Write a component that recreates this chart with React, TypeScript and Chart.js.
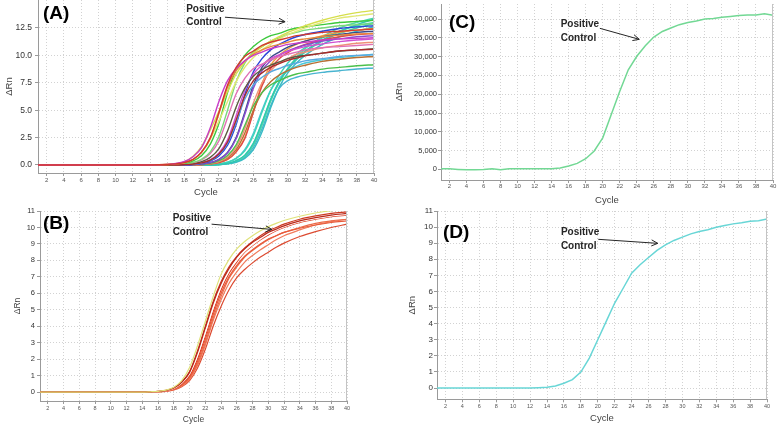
import React, { useEffect, useRef } from "react";
import { Chart, registerables } from "chart.js";

Chart.register(...registerables);

const FONT = '"Liberation Sans", Arial, Helvetica, sans-serif';

// ---------- shared tick labels ----------
const X_TICKS = [2, 4, 6, 8, 10, 12, 14, 16, 18, 20, 22, 24, 26, 28, 30, 32, 34, 36, 38, 40];
const A_Y_TICKS = [0, 2.5, 5, 7.5, 10, 12.5];
const C_Y_TICKS = [0, 5000, 10000, 15000, 20000, 25000, 30000, 35000, 40000];
const BD_Y_TICKS = [0, 1, 2, 3, 4, 5, 6, 7, 8, 9, 10, 11];

// ---------- Panel A (many samples) ----------
const A_CYCLES = [1, 12, 14, 16, 17, 18, 19, 20, 21, 22, 23, 24, 25, 26, 27, 28, 29, 30, 31, 32, 34, 36, 38, 40];
const A_RED = [0, 0, 0, 0.04, 0.1, 0.22, 0.52, 1.2, 2.5, 4.8, 7.3, 8.9, 9.9, 10.4, 10.9, 11.2, 11.4, 11.6, 11.8, 11.9, 12.1, 12.2, 12.3, 12.4];
const A_MAGENTA = [0, 0, 0, 0.06, 0.14, 0.32, 0.75, 1.6, 3.4, 5.8, 7.7, 8.8, 9.5, 10.0, 10.3, 10.6, 10.8, 11.0, 11.1, 11.2, 11.4, 11.5, 11.55, 11.6];
const A_YELLOW = [0, 0, 0, 0.05, 0.12, 0.3, 0.8, 1.7, 3.2, 4.9, 6.7, 8.3, 9.4, 10.2, 10.8, 11.3, 11.7, 12.1, 12.4, 12.7, 13.2, 13.6, 13.9, 14.1];
const A_YELLOW2 = [0, 0, 0, 0.03, 0.08, 0.2, 0.5, 1.2, 2.4, 4.0, 5.8, 7.6, 8.9, 9.8, 10.5, 11.0, 11.5, 11.9, 12.2, 12.5, 13.0, 13.4, 13.6, 13.8];
const A_ORANGE = [0, 0, 0, 0.04, 0.1, 0.21, 0.5, 1.15, 2.4, 4.7, 7.1, 8.6, 9.5, 10.1, 10.5, 10.8, 11.0, 11.2, 11.4, 11.5, 11.7, 11.85, 11.95, 12.0];
const A_GREEN = [0, 0, 0, 0, 0.07, 0.16, 0.37, 0.86, 1.9, 3.8, 6.6, 8.7, 10.0, 10.8, 11.4, 11.8, 12.0, 12.3, 12.5, 12.6, 12.8, 13.0, 13.1, 13.2];
const A_LIGHTGREEN = [0, 0, 0, 0, 0.04, 0.1, 0.23, 0.54, 1.2, 2.6, 5.0, 7.6, 9.3, 10.3, 10.8, 11.3, 11.6, 11.9, 12.1, 12.3, 12.5, 12.7, 12.8, 12.9];
const A_PINK = [0, 0, 0, 0, 0.03, 0.09, 0.2, 0.46, 1.05, 2.2, 4.3, 6.5, 7.9, 8.8, 9.2, 9.6, 9.9, 10.1, 10.3, 10.5, 10.7, 10.8, 10.9, 11.0];
const A_OLIVE = [0, 0, 0, 0, 0, 0.05, 0.13, 0.3, 0.7, 1.5, 3.1, 5.3, 7.0, 8.1, 8.7, 9.1, 9.4, 9.7, 9.9, 10.0, 10.2, 10.4, 10.5, 10.6];
const A_SKY = [0, 0, 0, 0, 0, 0.03, 0.08, 0.18, 0.42, 0.96, 2.0, 3.9, 6.0, 7.3, 8.0, 8.5, 8.8, 9.1, 9.3, 9.5, 9.7, 9.9, 10.0, 10.05];
const A_DARKRED = [0, 0, 0, 0, 0, 0.03, 0.08, 0.19, 0.44, 1.0, 2.1, 4.1, 6.3, 7.7, 8.4, 8.9, 9.25, 9.55, 9.75, 9.95, 10.2, 10.4, 10.5, 10.55];
const A_MAGENTA2 = [0, 0, 0, 0, 0, 0.03, 0.09, 0.2, 0.48, 1.1, 2.3, 4.5, 6.8, 8.3, 9.1, 9.7, 10.05, 10.35, 10.6, 10.8, 11.05, 11.25, 11.4, 11.5];
const A_BLUE = [0, 0, 0, 0, 0, 0, 0.06, 0.15, 0.36, 0.83, 1.8, 3.7, 6.4, 8.5, 9.7, 10.5, 11.0, 11.4, 11.7, 11.9, 12.2, 12.45, 12.6, 12.7];
const A_PURPLE = [0, 0, 0, 0, 0, 0, 0.04, 0.1, 0.21, 0.5, 1.1, 2.4, 4.6, 7.0, 8.6, 9.5, 10.0, 10.4, 10.7, 10.95, 11.3, 11.5, 11.7, 11.8];
const A_NAVY = [0, 0, 0, 0, 0, 0, 0.04, 0.1, 0.22, 0.52, 1.15, 2.5, 4.8, 7.3, 8.9, 9.8, 10.3, 10.75, 11.05, 11.3, 11.7, 11.9, 12.1, 12.2];
const A_GREEN2 = [0, 0, 0, 0, 0, 0, 0.03, 0.08, 0.16, 0.39, 0.87, 1.84, 3.6, 5.4, 6.6, 7.3, 7.7, 8.05, 8.3, 8.45, 8.75, 8.9, 9.05, 9.15];
const A_SALMON = [0, 0, 0, 0, 0, 0, 0, 0.06, 0.14, 0.32, 0.73, 1.6, 3.3, 5.65, 7.5, 8.6, 9.3, 9.7, 10.1, 10.3, 10.7, 10.9, 11.1, 11.2];
const A_BROWN = [0, 0, 0, 0, 0, 0, 0, 0.05, 0.12, 0.28, 0.65, 1.4, 2.9, 5.0, 6.6, 7.6, 8.2, 8.6, 8.9, 9.1, 9.45, 9.65, 9.8, 9.9];
const A_RED2 = [0, 0, 0, 0, 0, 0, 0, 0.04, 0.1, 0.22, 0.5, 1.2, 2.4, 4.8, 7.2, 8.8, 9.7, 10.25, 10.7, 11.0, 11.4, 11.7, 11.9, 12.0];
const A_ORANGE2 = [0, 0, 0, 0, 0, 0, 0, 0.04, 0.1, 0.23, 0.52, 1.2, 2.5, 4.9, 7.4, 9.1, 10.0, 10.6, 11.0, 11.3, 11.8, 12.1, 12.3, 12.45];
const A_TEAL1 = [0, 0, 0, 0, 0, 0, 0, 0, 0, 0.05, 0.15, 0.4, 0.9, 2.0, 3.9, 6.0, 7.6, 8.8, 9.7, 10.4, 11.4, 12.2, 12.8, 13.3];
const A_TEAL2 = [0, 0, 0, 0, 0, 0, 0, 0, 0.04, 0.1, 0.25, 0.6, 1.3, 2.7, 4.8, 6.8, 8.2, 9.3, 10.1, 10.7, 11.6, 12.2, 12.7, 13.0];
const A_TEAL3 = [0, 0, 0, 0, 0, 0, 0, 0, 0, 0.03, 0.1, 0.25, 0.6, 1.4, 3.0, 5.2, 7.1, 8.4, 9.3, 10.0, 11.0, 11.7, 12.2, 12.6];
const A_TEAL4 = [0, 0, 0, 0, 0, 0, 0, 0, 0, 0.04, 0.12, 0.32, 0.8, 1.8, 3.6, 5.8, 7.5, 8.8, 9.8, 10.6, 11.7, 12.5, 13.0, 13.4];
const A_TEAL5 = [0, 0, 0, 0, 0, 0, 0, 0, 0, 0.04, 0.13, 0.35, 0.85, 1.9, 3.8, 5.9, 7.6, 8.7, 9.6, 10.3, 11.3, 12.0, 12.5, 12.9];
const A_CYAN = [0, 0, 0, 0, 0, 0, 0, 0, 0, 0.04, 0.12, 0.3, 0.7, 1.6, 3.3, 5.4, 7.0, 7.7, 8.0, 8.2, 8.45, 8.6, 8.75, 8.85];
const A_CYAN2 = [0, 0, 0, 0, 0, 0, 0, 0, 0.04, 0.1, 0.25, 0.6, 1.4, 2.9, 5.0, 6.8, 7.9, 8.6, 9.0, 9.3, 9.6, 9.8, 9.95, 10.1];

const A_SERIES = [A_RED, A_MAGENTA, A_ORANGE, A_DARKRED, A_YELLOW, A_YELLOW2, A_GREEN, A_LIGHTGREEN, A_PINK, A_OLIVE, A_SKY, A_MAGENTA2, A_BLUE, A_PURPLE, A_NAVY, A_GREEN2, A_SALMON, A_BROWN, A_RED2, A_ORANGE2, A_TEAL1, A_TEAL2, A_TEAL3, A_TEAL4, A_TEAL5, A_CYAN, A_CYAN2];
const A_COLORS = ["#d23a30", "#c83cc8", "#e8883c", "#a82c2c", "#d6de4c", "#e2e874", "#3cc83c", "#7ad87a", "#e070b4", "#5a5a40", "#58a8e0", "#d050d0", "#2a44d8", "#8a4cd0", "#3a4a8a", "#4cc04c", "#f09078", "#b87034", "#e04848", "#f0a040", "#30c8b0", "#40d4b8", "#38bcc4", "#50d8a8", "#3ccaa8", "#48b4d0", "#4cc8d8"];

// ---------- Panel B ----------
const B_CYCLES = [1, 14, 15, 16, 17, 18, 19, 20, 21, 22, 23, 24, 25, 26, 27, 28, 29, 30, 31, 32, 34, 36, 38, 40];
const B_YELLOW = [0, 0, 0.02, 0.05, 0.12, 0.3, 0.7, 1.5, 2.8, 4.3, 5.8, 7.15, 8.05, 8.7, 9.15, 9.5, 9.8, 10.05, 10.25, 10.42, 10.68, 10.88, 11.02, 11.15];
const B_RED1 = [0, 0, 0.02, 0.04, 0.1, 0.25, 0.6, 1.2, 2.4, 3.9, 5.4, 6.6, 7.5, 8.2, 8.7, 9.1, 9.4, 9.7, 9.9, 10.1, 10.4, 10.6, 10.75, 10.85];
const B_RED2 = [0, 0, 0.01, 0.03, 0.08, 0.2, 0.5, 1.0, 2.0, 3.4, 4.9, 6.2, 7.2, 7.9, 8.5, 8.9, 9.25, 9.55, 9.8, 10.0, 10.3, 10.5, 10.65, 10.75];
const B_WHITE = [0, 0, 0.01, 0.03, 0.09, 0.22, 0.55, 1.1, 2.2, 3.6, 5.1, 6.4, 7.35, 8.0, 8.55, 8.95, 9.3, 9.6, 9.85, 10.05, 10.35, 10.55, 10.7, 10.8];
const B_RED3 = [0, 0, 0.01, 0.02, 0.06, 0.16, 0.4, 0.85, 1.7, 3.0, 4.5, 5.8, 6.9, 7.6, 8.2, 8.6, 8.95, 9.25, 9.5, 9.7, 10.0, 10.25, 10.4, 10.5];
const B_RED4 = [0, 0, 0.01, 0.02, 0.05, 0.13, 0.32, 0.7, 1.45, 2.6, 4.0, 5.2, 6.2, 6.95, 7.45, 7.85, 8.2, 8.5, 8.8, 9.05, 9.45, 9.75, 10.0, 10.2];
const B_RED5 = [0, 0, 0.01, 0.02, 0.06, 0.15, 0.36, 0.78, 1.6, 2.85, 4.35, 5.6, 6.6, 7.3, 7.9, 8.3, 8.65, 8.95, 9.25, 9.5, 9.85, 10.15, 10.35, 10.5];
const B_RED6 = [0, 0, 0.02, 0.04, 0.11, 0.27, 0.62, 1.25, 2.5, 4.0, 5.5, 6.7, 7.6, 8.25, 8.75, 9.15, 9.5, 9.8, 10.0, 10.2, 10.5, 10.7, 10.85, 10.95];
const B_RED7 = [0, 0, 0.01, 0.03, 0.07, 0.18, 0.45, 0.92, 1.85, 3.2, 4.7, 6.0, 7.0, 7.7, 8.25, 8.65, 9.0, 9.3, 9.5, 9.7, 9.95, 10.15, 10.3, 10.4];
const B_SERIES = [B_YELLOW, B_RED1, B_RED6, B_WHITE, B_RED2, B_RED7, B_RED3, B_RED5, B_RED4];
const B_COLORS = ["#dfe27a", "#b8281a", "#cc3a22", "#ffffff", "#e04428", "#e85a3a", "#ec6a48", "#f07c5c", "#dc4a30"];

// ---------- Panel C ----------
const C_CYCLES = [1, 2, 3, 4, 5, 6, 7, 8, 9, 10, 11, 12, 13, 14, 15, 16, 17, 18, 19, 20, 21, 22, 23, 24, 25, 26, 27, 28, 29, 30, 31, 32, 33, 34, 35, 36, 37, 38, 39, 40];
const C_VALUES = [200, 150, 0, -100, -100, -50, 200, -100, 150, 200, 150, 150, 200, 200, 400, 900, 1600, 2840, 4900, 8400, 14600, 20800, 26500, 30100, 32900, 35200, 36700, 37600, 38500, 39100, 39500, 40000, 40150, 40500, 40700, 40950, 41100, 41100, 41400, 41000];

// ---------- Panel D ----------
const D_CYCLES = [1, 2, 3, 4, 5, 6, 7, 8, 9, 10, 11, 12, 13, 14, 15, 16, 17, 18, 19, 20, 21, 22, 23, 24, 25, 26, 27, 28, 29, 30, 31, 32, 33, 34, 35, 36, 37, 38, 39, 40];
const D_VALUES = [0, 0, 0, 0, 0, 0, 0, 0, 0, 0, 0, 0, 0.02, 0.05, 0.13, 0.3, 0.52, 0.99, 1.86, 3.0, 4.14, 5.28, 6.2, 7.14, 7.66, 8.11, 8.55, 8.9, 9.17, 9.38, 9.58, 9.73, 9.83, 9.99, 10.1, 10.2, 10.27, 10.36, 10.4, 10.5];

// annotation anchors in data coordinates
const A_ANNOT = { tx: 18.2, ty1: 14.2, ty2: 12.98, fx: 22.7, fy: 13.48, ax: 29.68, ay: 13.07 };
const B_ANNOT = { tx: 17.85, ty1: 10.55, ty2: 9.68, fx: 22.8, fy: 10.2, ax: 30.46, ay: 9.88 };
const C_ANNOT = { tx: 15.06, ty1: 38590, ty2: 34870, fx: 19.66, fy: 37530, ax: 24.29, ay: 34600 };
const D_ANNOT = { tx: 15.64, ty1: 9.71, ty2: 8.84, fx: 20.06, fy: 9.24, ax: 27.09, ay: 8.99 };

function toPoints(xs: number[], ys: number[]) {
  return xs.map((x, i) => ({ x, y: ys[i] }));
}

const decoPlugin = {
  id: "deco",
  afterDatasetsDraw(chart: any, _args: any, opts: any) {
    const { ctx, chartArea: ca, scales } = chart;
    const x = scales.x;
    const y = scales.y;
    ctx.save();
    ctx.strokeStyle = "#c4c4c4";
    ctx.lineWidth = 1;
    ctx.setLineDash([]);
    const rx = Math.round(ca.right) - 0.5;
    ctx.beginPath();
    ctx.moveTo(rx, ca.top);
    ctx.lineTo(rx, ca.bottom);
    ctx.stroke();
    ctx.fillStyle = "#000";
    ctx.font = `bold 19px ${FONT}`;
    ctx.textBaseline = "middle";
    ctx.textAlign = "left";
    ctx.fillText(opts.label, ca.left + opts.labelDx, ca.top + opts.labelDy);
    const a = opts.annot;
    ctx.font = `bold 10px ${FONT}`;
    ctx.fillStyle = "#262626";
    const tx = x.getPixelForValue(a.tx);
    ctx.fillText("Positive", tx, y.getPixelForValue(a.ty1));
    ctx.fillText("Control", tx, y.getPixelForValue(a.ty2));
    const x1 = x.getPixelForValue(a.fx);
    const y1 = y.getPixelForValue(a.fy);
    const x2 = x.getPixelForValue(a.ax);
    const y2 = y.getPixelForValue(a.ay);
    ctx.strokeStyle = "#262626";
    ctx.lineWidth = 1;
    ctx.beginPath();
    ctx.moveTo(x1, y1);
    ctx.lineTo(x2, y2);
    ctx.stroke();
    const ang = Math.atan2(y2 - y1, x2 - x1);
    const h = 7;
    ctx.beginPath();
    ctx.moveTo(x2 - h * Math.cos(ang - 0.45), y2 - h * Math.sin(ang - 0.45));
    ctx.lineTo(x2, y2);
    ctx.lineTo(x2 - h * Math.cos(ang + 0.45), y2 - h * Math.sin(ang + 0.45));
    ctx.stroke();
    ctx.restore();
  },
};

type Panel = {
  left: number; top: number; width: number; height: number;
  padding: { top: number; right: number; bottom: number; left: number };
  yAxisWidth: number; xAxisHeight: number;
  yMin: number; yMax: number; yTicks: number[]; yFmt: (v: number) => string;
  yTickSize: number; xTickSize: number; titleSize: number; yTitlePad: number;
  yTickPad: number; xTickPad: number;
  label: string; labelDx: number; labelDy: number;
  annot: any; datasets: any[];
};

function buildConfig(p: Panel): any {
  const grid = { color: "#d2d2d2", lineWidth: 1, drawTicks: true, tickLength: 3, tickColor: "#9a9a9a", tickWidth: 1, tickBorderDash: [] };
  const border = { display: true, color: "#9a9a9a", width: 1, dash: [1, 2] };
  return {
    type: "line",
    data: { datasets: p.datasets },
    options: {
      animation: false,
      responsive: false,
      devicePixelRatio: 1,
      layout: { padding: p.padding },
      elements: { point: { radius: 0 } },
      plugins: {
        legend: { display: false },
        tooltip: { enabled: false },
        deco: { label: p.label, labelDx: p.labelDx, labelDy: p.labelDy, annot: p.annot },
      },
      scales: {
        x: {
          type: "linear",
          min: 1,
          max: 40,
          afterBuildTicks: (s: any) => { s.ticks = X_TICKS.map((v) => ({ value: v })); },
          afterFit: (s: any) => { s.height = p.xAxisHeight; s.paddingLeft = 0; s.paddingRight = 0; },
          grid,
          border,
          ticks: { font: { family: FONT, size: p.xTickSize }, color: "#555", padding: p.xTickPad, maxRotation: 0, autoSkip: false, callback: (v: number) => String(v) },
          title: { display: true, text: "Cycle", font: { family: FONT, size: p.titleSize }, color: "#444", padding: { top: 0, bottom: 0 } },
        },
        y: {
          type: "linear",
          min: p.yMin,
          max: p.yMax,
          afterBuildTicks: (s: any) => { s.ticks = p.yTicks.map((v) => ({ value: v })); },
          afterFit: (s: any) => { s.width = p.yAxisWidth; s.paddingTop = 0; s.paddingBottom = 0; },
          grid,
          border,
          ticks: { font: { family: FONT, size: p.yTickSize }, color: "#333", padding: p.yTickPad, callback: (v: number) => p.yFmt(v) },
          title: { display: true, text: "ΔRn", font: { family: FONT, size: p.titleSize }, color: "#444", padding: { top: p.yTitlePad, bottom: 0 } },
        },
      },
    },
    plugins: [decoPlugin],
  };
}

const PANEL_A: Panel = {
  left: 0, top: 0, width: 380, height: 210,
  padding: { top: 0, right: 6, bottom: 12, left: 0 },
  yAxisWidth: 38, xAxisHeight: 25,
  yMin: -0.73, yMax: 15.05, yTicks: A_Y_TICKS, yFmt: (v) => v.toFixed(1),
  yTickSize: 8.5, xTickSize: 6, titleSize: 9.5, yTitlePad: 4, yTickPad: 3, xTickPad: 1,
  label: "(A)", labelDx: 5, labelDy: 13.5, annot: A_ANNOT,
  datasets: A_SERIES.map((s, i) => ({ data: toPoints(A_CYCLES, s), borderColor: A_COLORS[i], borderWidth: 1.4, pointRadius: 0, fill: false, cubicInterpolationMode: "monotone" })),
};

const PANEL_B: Panel = {
  left: 0, top: 208, width: 352, height: 218,
  padding: { top: 3, right: 5, bottom: 1, left: 0 },
  yAxisWidth: 40, xAxisHeight: 24,
  yMin: -0.54, yMax: 11, yTicks: BD_Y_TICKS, yFmt: (v) => String(v),
  yTickSize: 7.5, xTickSize: 5.5, titleSize: 8.5, yTitlePad: 13, yTickPad: 2, xTickPad: 1,
  label: "(B)", labelDx: 3, labelDy: 13, annot: B_ANNOT,
  datasets: B_SERIES.map((s, i) => ({ data: toPoints(B_CYCLES, s), borderColor: B_COLORS[i], borderWidth: 1.2, pointRadius: 0, fill: false, cubicInterpolationMode: "monotone" })),
};

const PANEL_C: Panel = {
  left: 390, top: 0, width: 388, height: 210,
  padding: { top: 4, right: 5, bottom: 4, left: 0 },
  yAxisWidth: 51, xAxisHeight: 26,
  yMin: -2820, yMax: 44000, yTicks: C_Y_TICKS, yFmt: (v) => v.toLocaleString("en-US"),
  yTickSize: 7.5, xTickSize: 6, titleSize: 9.5, yTitlePad: 4, yTickPad: 1, xTickPad: 0,
  label: "(C)", labelDx: 8, labelDy: 18.5, annot: C_ANNOT,
  datasets: [{ data: toPoints(C_CYCLES, C_VALUES), borderColor: "#72d894", borderWidth: 1.5, pointRadius: 0, fill: false, tension: 0 }],
};

const PANEL_D: Panel = {
  left: 390, top: 208, width: 388, height: 218,
  padding: { top: 3, right: 11, bottom: 2, left: 0 },
  yAxisWidth: 47, xAxisHeight: 24.7,
  yMin: -0.7, yMax: 11, yTicks: BD_Y_TICKS, yFmt: (v) => String(v),
  yTickSize: 8, xTickSize: 5.5, titleSize: 9.5, yTitlePad: 17, yTickPad: 1, xTickPad: 1,
  label: "(D)", labelDx: 6, labelDy: 21.5, annot: D_ANNOT,
  datasets: [{ data: toPoints(D_CYCLES, D_VALUES), borderColor: "#68d6d6", borderWidth: 1.5, pointRadius: 0, fill: false, tension: 0 }],
};

function PanelChart({ panel }: { panel: Panel }) {
  const ref = useRef<HTMLCanvasElement | null>(null);
  useEffect(() => {
    const chart = new Chart(ref.current as HTMLCanvasElement, buildConfig(panel));
    return () => chart.destroy();
  }, [panel]);
  return (
    <canvas
      ref={ref}
      width={panel.width}
      height={panel.height}
      style={{ position: "absolute", left: panel.left, top: panel.top, width: panel.width, height: panel.height }}
    />
  );
}

export default function App() {
  return (
    <div style={{ position: "fixed", left: 0, top: 0, width: 778, height: 426, background: "#fff", overflow: "hidden" }}>
      <PanelChart panel={PANEL_A} />
      <PanelChart panel={PANEL_C} />
      <PanelChart panel={PANEL_B} />
      <PanelChart panel={PANEL_D} />
    </div>
  );
}
